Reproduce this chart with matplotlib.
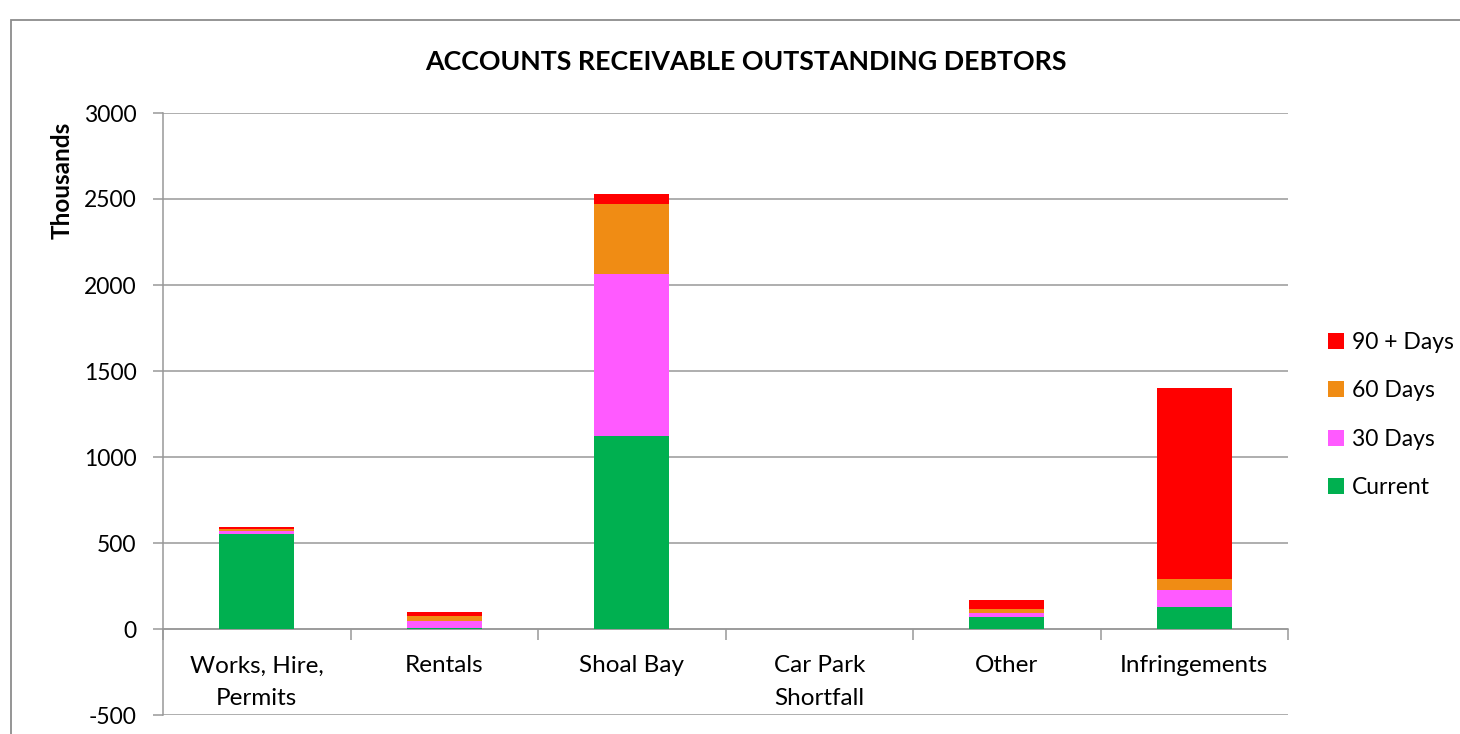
import matplotlib
matplotlib.use("Agg")
import matplotlib.pyplot as plt
from matplotlib.patches import Rectangle
import numpy as np

categories = ["Works, Hire,\nPermits", "Rentals", "Shoal Bay", "Car Park\nShortfall", "Other", "Infringements"]
current = [552, 3, 1122, 0, 70, 128]
days30 = [17, 45, 942, 0, 21, 97]
days60 = [12, 27, 407, 0, 27, 64]
days90 = [12, 25, 58, 0, 49, 1110]
series_names = ["Current", "30 Days", "60 Days", "90 + Days"]
colors = ["#00B050", "#FF5AFF", "#F08C14", "#FF0000"]
yticks = [-500, 0, 500, 1000, 1500, 2000, 2500, 3000]

plt.rcParams['font.family'] = ['Lato', 'DejaVu Sans']

fig = plt.figure(figsize=(14.6, 7.34), dpi=100)
W, H = 1460, 734
ax = fig.add_axes([163 / W, 1 - 715 / H, (1288 - 163) / W, (715 - 113) / H])

# outer chart border
fig.patches.append(Rectangle((11 / W, -0.1), 1.2, 1 - 20 / H + 0.1, transform=fig.transFigure,
                             fill=False, edgecolor="#8c8c8c", linewidth=1.3, zorder=0))

x = np.arange(len(categories))
bottom = np.zeros(len(categories))
data = [current, days30, days60, days90]
handles = []
for vals, name, c in zip(data, series_names, colors):
    vals = np.array(vals, dtype=float)
    b = ax.bar(x, vals, width=0.4, bottom=bottom, color=c, label=name,
               linewidth=0, zorder=3)
    handles.append(b)
    bottom += vals

ax.set_xlim(-0.5, len(categories) - 0.5)
ax.set_ylim(-500, 3000)
ax.set_yticks(yticks)
ax.set_yticklabels([str(v) for v in yticks], fontsize=16.5)
ax.yaxis.grid(True, color="#989898", linewidth=1.1, zorder=0)
ax.set_axisbelow(True)

for s in ["top", "right"]:
    ax.spines[s].set_visible(False)
ax.spines["left"].set_color("#989898")
ax.spines["left"].set_linewidth(1.1)
ax.spines["bottom"].set_position(("data", 0))
ax.spines["bottom"].set_color("#989898")
ax.spines["bottom"].set_linewidth(1.1)

ax.tick_params(axis="y", direction="out", length=7, width=1.1, color="#989898", pad=12)
ax.set_xticks(np.arange(len(categories) + 1) - 0.5)
ax.set_xticklabels([])
ax.tick_params(axis="x", which="major", direction="out", length=8, width=1.1, color="#989898")
ax.set_xticks(x, minor=True)
ax.set_xticklabels(categories, minor=True, fontsize=17.5, linespacing=1.7)
ax.tick_params(axis="x", which="minor", length=0, pad=19)

fig.text(746 / W, 1 - 62 / H, "ACCOUNTS RECEIVABLE OUTSTANDING DEBTORS", ha="center", va="center",
         fontsize=19.3, fontweight="bold")
fig.text(62 / W, 1 - 180 / H, "Thousands", rotation=90, ha="center", va="center",
         fontsize=17.5, fontweight="bold")

leg = fig.legend(handles[::-1], series_names[::-1], loc="center left",
                 bbox_to_anchor=(1307 / W, 1 - 415 / H), frameon=False, fontsize=16.5,
                 handlelength=0.7, handleheight=0.7, handletextpad=0.35, labelspacing=1.2)

fig.savefig("out.png", dpi=100)
